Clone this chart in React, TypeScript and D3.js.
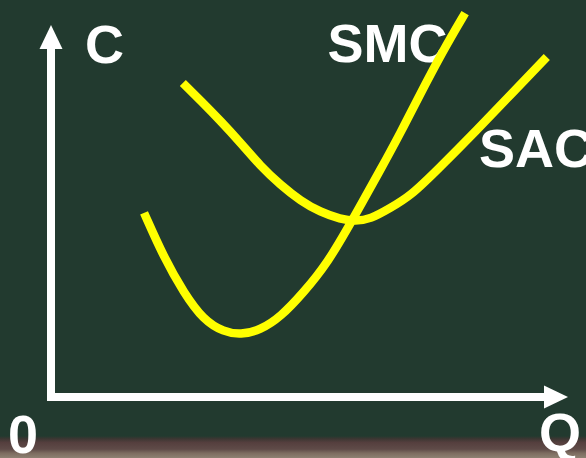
import { useEffect, useRef } from "react";
import * as d3 from "d3";

const chartWidth = 586;
const chartHeight = 458;

// quantity / cost domains (axis arrows end at 100)
const qDomain: [number, number] = [0, 100];
const cDomain: [number, number] = [0, 100];

// short-run marginal cost as [Q, C]
const smcPoints: [number, number][] = [
  [18.0, 49.5],
  [21.8, 37.6],
  [25.7, 28.0],
  [29.5, 20.7],
  [33.4, 17.5],
  [36.7, 16.7],
  [40.5, 18.0],
  [44.4, 21.5],
  [48.8, 28.0],
  [53.5, 36.0],
  [58.3, 47.6],
  [63.7, 61.0],
  [67.6, 71.0],
  [70.8, 79.8],
  [75.9, 93.3],
  [80.1, 103.2],
];

// short-run average cost
const sacPoints: [number, number][] = [
  [25.5, 84.4],
  [29.0, 79.6],
  [32.8, 74.2],
  [36.7, 68.3],
  [40.5, 62.1],
  [44.4, 57.0],
  [48.3, 52.7],
  [52.1, 49.7],
  [56.0, 47.8],
  [58.9, 47.3],
  [61.8, 47.8],
  [65.6, 50.8],
  [69.5, 54.0],
  [74.7, 61.0],
  [82.4, 71.8],
  [89.2, 81.7],
  [95.9, 91.4],
];

const curveLabels = [
  { text: "SMC", q: 53.5, c: 90.1 },
  { text: "SAC", q: 82.8, c: 61.8 },
];

const axisLabels = [
  { text: "C", q: 6.6, c: 89.8 },
  { text: "0", q: -8.3, c: -15.1 },
  { text: "Q", q: 94.4, c: -14.5 },
];

const boardColor = "#223a2f";
const chalkColor = "#ffffff";
const curveColor = "#ffff00";
const labelFont = "'Liberation Sans', Arial, sans-serif";

export default function App() {
  const svgRef = useRef<SVGSVGElement | null>(null);

  useEffect(() => {
    document.body.style.margin = "0";
    if (!svgRef.current) return;

    const x = d3.scaleLinear().domain(qDomain).range([51, 568]);
    const y = d3.scaleLinear().domain(cDomain).range([397, 25]);

    const svg = d3.select(svgRef.current);
    svg.selectAll("*").remove();
    svg
      .attr("width", chartWidth)
      .attr("height", chartHeight)
      .attr("viewBox", [0, 0, chartWidth, chartHeight].join(" "));

    // chalkboard + the wooden ledge at the bottom
    const defs = svg.append("defs");
    const ledge = defs
      .append("linearGradient")
      .attr("id", "ledge")
      .attr("x1", 0)
      .attr("y1", 0)
      .attr("x2", 0)
      .attr("y2", 1);
    [
      [0, "#223a2f"],
      [0.12, "#3b3632"],
      [0.3, "#553f3e"],
      [0.6, "#5f4b48"],
      [0.78, "#7d6c60"],
      [1, "#8e8172"],
    ].forEach(([offset, color]) =>
      ledge.append("stop").attr("offset", offset as number).attr("stop-color", color as string)
    );

    svg.append("rect").attr("width", chartWidth).attr("height", chartHeight).attr("fill", boardColor);
    svg
      .append("rect")
      .attr("y", 436)
      .attr("width", chartWidth)
      .attr("height", chartHeight - 436)
      .attr("fill", "url(#ledge)");

    // axes
    const ox = x(0);
    const oy = y(0);
    const arrowLen = 24;
    const arrowHalf = 11.5;
    const axisG = svg.append("g").attr("fill", chalkColor).attr("stroke", "none");

    axisG
      .append("line")
      .attr("x1", ox - 4)
      .attr("x2", x(qDomain[1]) - arrowLen + 1)
      .attr("y1", oy)
      .attr("y2", oy)
      .attr("stroke", chalkColor)
      .attr("stroke-width", 8);
    axisG
      .append("polygon")
      .attr(
        "points",
        [
          [x(qDomain[1]), oy],
          [x(qDomain[1]) - arrowLen, oy - arrowHalf],
          [x(qDomain[1]) - arrowLen, oy + arrowHalf],
        ].join(" ")
      );

    axisG
      .append("line")
      .attr("x1", ox)
      .attr("x2", ox)
      .attr("y1", oy + 4)
      .attr("y2", y(cDomain[1]) + arrowLen - 1)
      .attr("stroke", chalkColor)
      .attr("stroke-width", 8);
    axisG
      .append("polygon")
      .attr(
        "points",
        [
          [ox, y(cDomain[1])],
          [ox - arrowHalf, y(cDomain[1]) + arrowLen],
          [ox + arrowHalf, y(cDomain[1]) + arrowLen],
        ].join(" ")
      );

    // labels (drawn before the curves: the SMC curve runs over its own "C")
    svg
      .append("g")
      .attr("fill", chalkColor)
      .style("font-family", labelFont)
      .style("font-weight", 700)
      .style("font-size", "54px")
      .selectAll("text")
      .data([...axisLabels, ...curveLabels])
      .join("text")
      .attr("x", (d) => x(d.q))
      .attr("y", (d) => y(d.c))
      .text((d) => d.text);

    // B-spline through the read-off points smooths out reading noise
    const line = d3
      .line<[number, number]>()
      .x((d) => x(d[0]))
      .y((d) => y(d[1]))
      .curve(d3.curveBasis);

    svg
      .append("g")
      .attr("fill", "none")
      .attr("stroke", curveColor)
      .attr("stroke-width", 8.5)
      .attr("stroke-linecap", "butt")
      .attr("stroke-linejoin", "round")
      .selectAll("path")
      .data([sacPoints, smcPoints])
      .join("path")
      .attr("d", (d) => line(d));
  }, []);

  return <svg ref={svgRef} style={{ display: "block" }} />;
}
